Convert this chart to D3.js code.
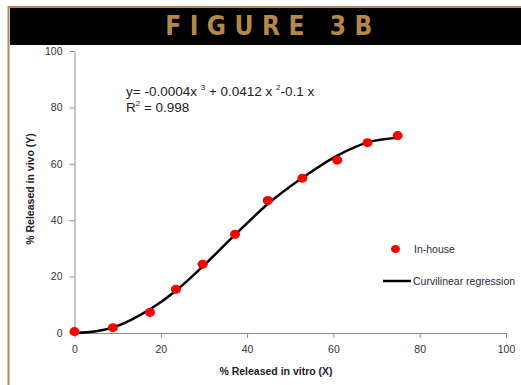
<!DOCTYPE html>
<html>
<head>
<meta charset="utf-8">
<script src="https://cdn.jsdelivr.net/npm/d3@7"></script>
<style>
  body { margin: 0; background: #fff; }
  text { font-family: "Liberation Sans", Arial, sans-serif; }
</style>
</head>
<body>
<svg id="chart" width="521" height="385"></svg>
<script>
// measured points (% released in vitro vs in vivo)
const inVitro = [0, 8.9, 17.5, 23.5, 29.7, 37.2, 44.8, 52.8, 60.9, 67.9, 74.9];
const inVivo = [0.5, 1.9, 7.3, 15.5, 24.4, 35.0, 47.0, 54.9, 61.3, 67.5, 70.0];

// regression curve as drawn
const fitX = [0, 5, 9, 13, 17.5, 23.5, 30, 37, 45, 53, 61, 68, 75];
const fitY = [0, 0.6, 2.0, 4.6, 8.4, 15.0, 24.0, 34.5, 46.0, 55.2, 63.0, 67.6, 69.2];

const xTicks = [0, 20, 40, 60, 80, 100];
const yTicks = [0, 20, 40, 60, 80, 100];

const tan = "#b5884a";
let svg = d3.select("#chart");

// frame and title bar
svg.append("line").attr("x1", 8.5).attr("x2", 8.5).attr("y1", 6).attr("y2", 385)
   .attr("stroke", tan).attr("stroke-width", 2);
svg.append("line").attr("x1", 8).attr("x2", 521).attr("y1", 7).attr("y2", 7)
   .attr("stroke", tan).attr("stroke-width", 2);
svg.append("rect").attr("x", 10).attr("y", 8).attr("width", 511).attr("height", 37)
   .attr("fill", "#000");
svg.append("text").attr("x", 273).attr("y", 35).attr("text-anchor", "middle")
   .style("font-family", "'DejaVu Sans Condensed', 'Open Sans', sans-serif")
   .style("font-weight", "bold").style("font-size", "26px")
   .style("letter-spacing", "8.5px").attr("fill", tan)
   .text("FIGURE 3B");

let x = d3.scaleLinear().domain([0, 100]).range([74.5, 506]);
let y = d3.scaleLinear().domain([0, 100]).range([333, 51]);

// axes
let xAxis = svg.append("g").attr("transform", "translate(0,333)")
  .call(d3.axisBottom(x).tickValues(xTicks).tickSize(5).tickSizeOuter(0).tickPadding(8));
let yAxis = svg.append("g").attr("transform", "translate(74.5,0)")
  .call(d3.axisLeft(y).tickValues(yTicks).tickSize(5).tickSizeOuter(0).tickPadding(7));
[xAxis, yAxis].forEach(a => {
  a.select(".domain").attr("stroke", "#8c8c8c");
  a.selectAll(".tick line").attr("stroke", "#8c8c8c");
  a.selectAll(".tick text").attr("fill", "#333").style("font-size", "10.5px")
   .style("font-family", "'Liberation Sans', Arial, sans-serif");
});

// axis titles
svg.append("text").attr("x", 276).attr("y", 375).attr("text-anchor", "middle")
   .style("font-size", "10.5px").style("font-weight", "bold").attr("fill", "#222")
   .text("% Released in vitro (X)");
svg.append("text").attr("transform", "translate(34,189) rotate(-90)")
   .attr("text-anchor", "middle")
   .style("font-size", "10.5px").style("font-weight", "bold").attr("fill", "#222")
   .text("% Released in vivo (Y)");

// regression line
let line = d3.line().x(d => x(d[0])).y(d => y(d[1])).curve(d3.curveMonotoneX);
svg.append("path").datum(d3.zip(fitX, fitY))
   .attr("d", line).attr("fill", "none").attr("stroke", "#000").attr("stroke-width", 2.5);

// points
svg.append("g").selectAll("ellipse").data(d3.zip(inVitro, inVivo)).enter()
   .append("ellipse")
   .attr("cx", d => x(d[0])).attr("cy", d => y(d[1]))
   .attr("rx", 5).attr("ry", 4.5).attr("fill", "#ff0000");

// equation
let eq = svg.append("text").attr("x", 126).attr("y", 96)
   .style("font-size", "13.5px").attr("fill", "#222");
eq.append("tspan").text("y= -0.0004x ");
eq.append("tspan").attr("dy", -6).style("font-size", "8px").text("3");
eq.append("tspan").attr("dy", 6).text(" + 0.0412 x ");
eq.append("tspan").attr("dy", -6).style("font-size", "8px").text("2");
eq.append("tspan").attr("dy", 6).text("-0.1 x");
let r2 = svg.append("text").attr("x", 126).attr("y", 112)
   .style("font-size", "13.5px").attr("fill", "#222");
r2.append("tspan").text("R");
r2.append("tspan").attr("dy", -6).style("font-size", "8px").text("2");
r2.append("tspan").attr("dy", 6).text(" = 0.998");

// legend
svg.append("ellipse").attr("cx", 395.5).attr("cy", 249).attr("rx", 4.5).attr("ry", 4)
   .attr("fill", "#ff0000");
svg.append("text").attr("x", 414).attr("y", 252.5).style("font-size", "10.5px")
   .attr("fill", "#2a2a3a").text("In-house");
svg.append("line").attr("x1", 383).attr("x2", 411).attr("y1", 281).attr("y2", 281)
   .attr("stroke", "#000").attr("stroke-width", 2.5);
svg.append("text").attr("x", 413).attr("y", 284.5).style("font-size", "10.5px")
   .attr("fill", "#2a2a3a").text("Curvilinear regression");
</script>
</body>
</html>
